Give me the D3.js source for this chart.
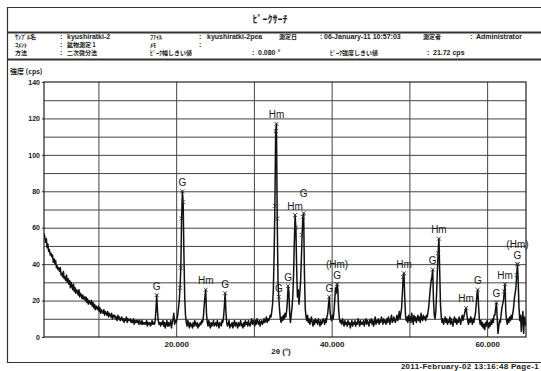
<!DOCTYPE html>
<html>
<head>
<meta charset="utf-8">
<script src="https://cdn.jsdelivr.net/npm/d3@7"></script>
<style>
body { margin: 0; background: #fff; }
text { font-family: "Liberation Sans", Arial, sans-serif; fill: #1a1a1a; }
.jp { font-family: "Noto Sans CJK JP", sans-serif; font-weight: bold; }
.lat { font-family: "Liberation Sans", Arial, sans-serif; font-weight: bold; }
</style>
</head>
<body>
<script>
// scan: 3.0 - 65.0 deg, 0.1 deg step, intensity in cps
var startAngle = 3.0, stepAngle = 0.1;
var cps = [
  57,55,52,54,49,51,47,48,45,46,   // 3
  44,45,41,43,40,42,38,39,37,38,   // 4
  36,38,34,35,33,36,32,33,31,34,   // 5
  30,32,29,31,27,30,28,26,29,25,   // 6
  27,24,26,25,23,26,22,24,23,21,   // 7
  23,21,22,20,22,19,21,18,20,19,   // 8
  18,20,17,19,16,18,15,17,16,15,   // 9
  17,14,16,13,15,14,13,15,12,14,   // 10
  13,12,14,11,13,12,11,13,10,12,   // 11
  11,12,10,11,9,12,10,11,9,10,     // 12
  11,9,10,8,10,9,11,8,10,9,        // 13
  9,10,8,9,8,10,7,9,8,9,           // 14
  8,9,7,9,8,7,9,7,8,7,             // 15
  8,7,9,6,8,7,8,6,7,9,             // 16
  7,8,7,9,15,23,14,9,7,8,          // 17
  6,8,7,9,6,8,5,7,9,6,             // 18
  8,6,7,9,5,8,10,13,7,9,           // 19
  8,10,12,16,20,27,38,65,80,74,    // 20
  45,22,12,8,6,9,7,5,8,6,          // 21
  7,5,8,6,9,7,6,8,5,7,             // 22
  6,8,7,9,8,11,17,22,26,13,        // 23
  8,6,9,7,5,8,6,7,9,6,             // 24
  7,8,6,9,7,5,8,7,6,9,             // 25
  8,11,17,24,14,8,6,7,9,5,         // 26
  7,6,8,5,7,9,6,8,7,5,             // 27
  8,6,7,9,6,7,5,8,6,9,             // 28
  7,8,6,9,7,6,8,10,7,9,            // 29
  8,6,9,7,10,8,7,9,6,8,            // 30
  9,7,8,10,8,9,11,8,10,9,          // 31
  10,12,11,14,18,26,45,72,113,117, // 32
  65,30,22,15,10,8,11,9,12,10,     // 33
  13,11,14,19,28,25,13,8,12,16,    // 34
  22,34,52,67,60,38,22,26,18,24,   // 35
  30,42,56,66,68,35,16,11,9,12,    // 36
  8,10,7,9,11,8,6,9,7,10,          // 37
  8,9,7,10,8,6,9,7,8,10,           // 38
  9,7,10,8,11,13,18,22,14,10,      // 39
  9,12,10,14,20,27,24,29,26,15,    // 40
  10,8,9,7,10,8,6,9,7,8,           // 41
  6,9,7,8,5,7,9,6,8,7,             // 42
  9,6,8,7,10,8,6,9,7,8,            // 43
  7,9,6,8,10,7,9,8,6,9,            // 44
  8,10,7,9,6,8,11,7,9,8,           // 45
  10,7,9,8,11,9,7,10,8,9,          // 46
  7,10,8,11,9,7,10,12,8,9,         // 47
  11,9,8,10,12,9,11,14,10,13,      // 48
  16,24,33,35,22,12,9,11,8,12,     // 49
  9,11,8,13,10,7,12,9,11,8,        // 50
  10,12,9,11,8,13,10,9,12,10,      // 51
  11,9,12,11,14,17,22,27,31,33,    // 52
  37,20,12,10,14,24,36,46,54,36,   // 53
  18,11,8,10,7,9,11,8,10,7,        // 54
  9,8,11,7,10,8,6,9,11,8,          // 55
  10,7,9,8,11,9,7,10,12,9,         // 56
  11,13,15,16,12,9,7,10,8,11,      // 57
  9,7,10,8,11,13,18,24,26,17,      // 58
  10,7,9,6,8,5,7,4,8,6,            // 59
  9,7,5,8,6,9,7,10,8,12,           // 60
  12,16,19,10,2,6,9,8,12,16,       // 61
  18,20,25,29,14,9,7,10,8,11,      // 62
  9,12,10,13,16,21,24,27,34,40,    // 63
  30,16,9,12,3,10,14,2,11,8,       // 64
  6                                // 65
];

// identified peaks
var peakAngles = [17.5, 20.8, 23.8, 26.3, 32.9, 33.2, 34.4, 35.3, 36.4, 39.7, 40.7, 40.7,
                  49.3, 53.0, 53.8, 57.3, 58.8, 61.2, 62.3, 63.9, 63.9];
var peakLabels = ["G", "G", "Hm", "G", "Hm", "G", "G", "Hm", "G", "G", "G", "(Hm)",
                  "Hm", "G", "Hm", "Hm", "G", "G", "Hm", "G", "(Hm)"];
// extra search points on the peak flanks
var flankAngles = [20.5, 20.6, 20.7, 20.9, 32.7, 32.8, 33.0, 35.4, 36.2, 36.3, 40.6,
                   49.2, 53.7, 62.2, 63.8];

var yTicks = [0, 20, 40, 60, 80, 100, 120, 140];
var yGrid = [10, 20, 30, 40, 50, 60, 70, 80, 90, 100, 110, 120, 130];
var xTicks = [20, 40, 60];
var xGrid = [10, 20, 30, 40, 50, 60];

var headerRows = [
  [["ｻﾝﾌﾟﾙ名", 15], [":", 60], ["kyushiratki-2", 67], ["ﾌｧｲﾙ", 150], [":", 199], ["kyushiratki-2pea", 207],
   ["測定日", 279], [":", 320], ["06-January-11  10:57:03", 324], ["測定者", 423], [":", 470], ["Administrator", 476]],
  [["ｺﾒﾝﾄ", 15], [":", 60], ["鉱物測定 1", 67], ["ﾒﾓ", 150], [":", 199]],
  [["方法", 15], [":", 60], ["二次微分法", 67], ["ﾋﾟｰｸ幅しきい値", 150], [":", 252], ["0.080 °", 258],
   ["ﾋﾟｰｸ強度しきい値", 330], [":", 427], ["21.72 cps", 433]]
];

function cpsAt(a) { return cps[Math.round((a - startAngle) / stepAngle)]; }

var W = 541, H = 371;
var svg = d3.select("body").append("svg").attr("width", W).attr("height", H);

var x = d3.scaleLinear().domain([3, 65]).range([44, 526]);
var y = d3.scaleLinear().domain([0, 140]).range([337, 82]);

// page frame
svg.append("path")
  .attr("d", "M541,7.5H7.5V362.5H541")
  .attr("fill", "none").attr("stroke", "#333").attr("stroke-width", 1.2);
svg.append("line").attr("x1", 7).attr("x2", 541).attr("y1", 32.5).attr("y2", 32.5)
  .attr("stroke", "#333").attr("stroke-width", 1.8);
svg.append("line").attr("x1", 7).attr("x2", 541).attr("y1", 59.5).attr("y2", 59.5)
  .attr("stroke", "#333").attr("stroke-width", 1.8);

svg.append("text").attr("class", "jp").attr("x", 270).attr("y", 23)
  .attr("text-anchor", "middle").style("font-size", "10px").text("ﾋﾟｰｸｻｰﾁ");

var rowY = [39, 47, 55];
headerRows.forEach(function(row, r) {
  row.forEach(function(c) {
    var ascii = /^[\x20-\x7e°]*$/.test(c[0]);
    svg.append("text").attr("class", ascii ? "lat" : "jp").attr("x", c[1]).attr("y", rowY[r])
      .style("font-size", ascii ? "7px" : "6px").text(c[0]);
  });
});

svg.append("text").attr("class", "jp").attr("x", 10).attr("y", 74)
  .style("font-size", "7px").text("強度 (cps)");

// grid
var gx = svg.append("g").attr("transform", "translate(0,337)")
  .call(d3.axisBottom(x).tickValues(xGrid).tickSize(-(337 - 82)).tickFormat(""));
var gy = svg.append("g").attr("transform", "translate(44,0)")
  .call(d3.axisLeft(y).tickValues(yGrid).tickSize(-(526 - 44)).tickFormat(""));
[gx, gy].forEach(function(g) {
  g.select(".domain").remove();
  g.selectAll("line").attr("stroke", "#444").attr("stroke-width", 1);
});

svg.append("rect").attr("x", 44).attr("y", 82).attr("width", 526 - 44).attr("height", 337 - 82)
  .attr("fill", "none").attr("stroke", "#222").attr("stroke-width", 1.2);

// tick labels
var ay = svg.append("g").attr("transform", "translate(44,0)")
  .call(d3.axisLeft(y).tickValues(yTicks).tickSize(2).tickPadding(2));
var ax = svg.append("g").attr("transform", "translate(0,337)")
  .call(d3.axisBottom(x).tickValues(xTicks).tickSize(0).tickPadding(4).tickFormat(d3.format(".3f")));
[ax, ay].forEach(function(g) {
  g.select(".domain").remove();
  g.selectAll("line").attr("stroke", "#222");
  g.selectAll("text").style("font-family", "'Liberation Sans', Arial, sans-serif")
    .style("font-weight", "bold").attr("fill", "#222");
});
ay.selectAll("text").style("font-size", "7px");
ax.selectAll("text").style("font-size", "8px");

svg.append("text").attr("x", 281).attr("y", 354).attr("text-anchor", "middle")
  .style("font-size", "8px").style("font-weight", "bold").text("2θ (°)");

// pattern
svg.append("clipPath").attr("id", "plot").append("rect")
  .attr("x", 44).attr("y", 82).attr("width", 526 - 44).attr("height", 337 - 82);
var line = d3.line()
  .x(function(d, i) { return x(startAngle + i * stepAngle); })
  .y(function(d) { return y(d); });
svg.append("path").datum(cps).attr("d", line).attr("clip-path", "url(#plot)")
  .attr("fill", "none").attr("stroke", "#111").attr("stroke-width", 1.5)
  .attr("stroke-linejoin", "round");

// cross markers
var crossAngles = peakAngles.concat(flankAngles);
svg.append("g").selectAll("path").data(crossAngles).enter().append("path")
  .attr("transform", function(a) { return "translate(" + x(a) + "," + y(cpsAt(a)) + ")"; })
  .attr("d", "M-2,-2L2,2M-2,2L2,-2")
  .attr("stroke", "#333").attr("stroke-width", 0.9);

// peak labels, lifted when they would overlap one already placed
var placed = [];
var lab = svg.append("g");
peakAngles.forEach(function(a, i) {
  var t = lab.append("text").attr("x", x(a)).attr("text-anchor", "middle")
    .style("font-size", "10px").text(peakLabels[i]);
  var w = t.node().getComputedTextLength();
  var cy = y(cpsAt(a)) - 9;
  var box = function(c) { return { x0: x(a) - w / 2, x1: x(a) + w / 2, y0: c - 5, y1: c + 5 }; };
  var hit = function(b) {
    return placed.some(function(p) { return b.x0 < p.x1 && b.x1 > p.x0 && b.y0 < p.y1 && b.y1 > p.y0; });
  };
  while (hit(box(cy))) cy -= 11;
  placed.push(box(cy));
  t.attr("y", cy + 3.6);
});

svg.append("text").attr("x", 539).attr("y", 369).attr("text-anchor", "end")
  .style("font-size", "8px").style("font-weight", "bold").style("letter-spacing", "0.3px")
  .text("2011-February-02  13:16:48  Page-1");
</script>
</body>
</html>
